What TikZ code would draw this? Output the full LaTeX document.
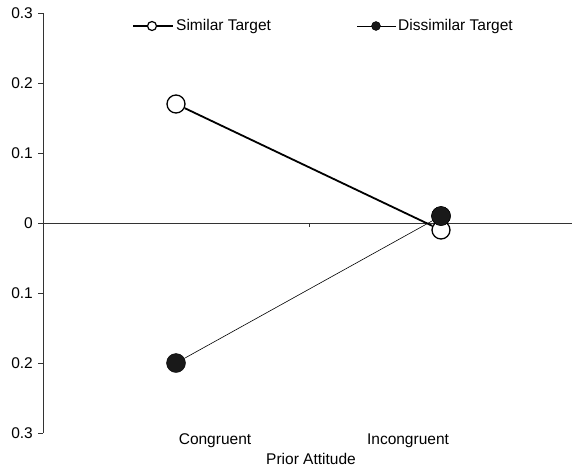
\documentclass[tikz,border=0pt]{standalone}
\usepackage{fontspec}
\setmainfont{Liberation Sans}
\begin{document}
\begin{tikzpicture}[x=1pt,y=-1pt,
  lbl/.style={font=\fontsize{15.5}{18}\selectfont, inner sep=0pt},
  ylbl/.style={lbl, anchor=east},
  axisline/.style={draw=black!80, line width=0.7pt},
  openmark/.style={circle, draw=black, line width=1.3pt, fill=white, minimum size=18pt, inner sep=0pt},
  fullmark/.style={circle, draw=black, fill=black!90, minimum size=19pt, inner sep=0pt},
  openleg/.style={circle, draw=black, line width=1.2pt, fill=white, minimum size=9pt, inner sep=0pt},
  fullleg/.style={circle, draw=black, fill=black!90, minimum size=9pt, inner sep=0pt},
  simline/.style={draw=black, line width=1.8pt},
  disline/.style={draw=black, line width=0.6pt}]
\useasboundingbox (0,0) rectangle (572,469);
% axes
\coordinate (ytop) at (43,13);
\coordinate (ybot) at (43,433);
\coordinate (zl) at (43,223);
\coordinate (zr) at (572,223);
\draw[axisline] (ytop) -- (ybot);
\draw[axisline] (zl) -- (zr);
\draw[axisline] (309,223) -- (309,227);
\foreach \yy/\t in {13/0.3, 83/0.2, 153/0.1, 223/0, 293/0.1, 363/0.2, 433/0.3}{
  \draw[axisline] (38,\yy) -- (43,\yy);
  \node[ylbl] at (33,\yy) {\t};
}
% category labels
\node[lbl] (cong) at (215,441) {Congruent};
\node[lbl] (incong) at (408,441) {Incongruent};
\node[lbl] (xtitle) at (311,459) {Prior Attitude};
% data
\node[openmark] (s1) at (176,104) {};
\node[openmark] (s2) at (441,230) {};
\node[fullmark] (d1) at (176,363) {};
\node[fullmark] (d2) at (441,216) {};
\draw[disline] (d1) -- (d2);
\draw[simline] (s1) -- (s2);
\node[fullmark] at (d2) {};
% legend
\coordinate (l1a) at (133,26);
\coordinate (l1b) at (173,26);
\draw[simline, line width=1.5pt] (l1a) -- (l1b);
\node[openleg] (l1m) at (152,26) {};
\node[lbl, anchor=west] (l1t) at (176,26) {Similar Target};
\coordinate (l2a) at (357,26);
\coordinate (l2b) at (396,26);
\draw[disline] (l2a) -- (l2b);
\node[fullleg] (l2m) at (376,26) {};
\node[lbl, anchor=west] (l2t) at (398,26) {Dissimilar Target};
\end{tikzpicture}
\end{document}
